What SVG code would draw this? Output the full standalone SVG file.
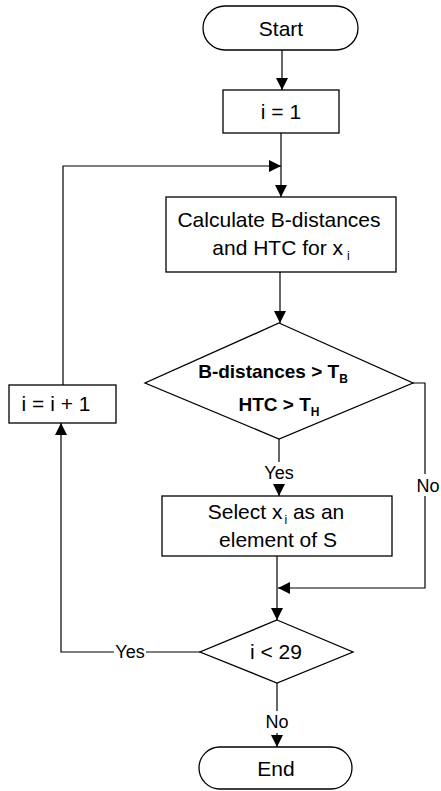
<svg xmlns="http://www.w3.org/2000/svg" width="441" height="791" viewBox="0 0 441 791">
<defs>
<marker id="ah" markerUnits="userSpaceOnUse" markerWidth="12" markerHeight="12" viewBox="0 0 12 12" refX="12" refY="6" orient="auto">
<path d="M0,0 L12,6 L0,12 Z" fill="#000"/>
</marker>
</defs>
<style>
.s{fill:#fff;stroke:#000;stroke-width:1.3}
.c{fill:none;stroke:#000;stroke-width:1.2}
.t{font-family:"Liberation Sans",Arial,sans-serif;font-size:21px;fill:#000;text-anchor:middle}
.b{font-family:"Liberation Sans",Arial,sans-serif;font-size:19px;font-weight:bold;fill:#000;text-anchor:middle}
.l{font-family:"Liberation Sans",Arial,sans-serif;font-size:18px;fill:#000;text-anchor:middle}
.sub{font-size:12px}
.bg{fill:#fff;stroke:none}
</style>
<rect width="441" height="791" fill="#fff"/>
<g id="connectors">
<line class="c" x1="282" y1="50" x2="282" y2="90" marker-end="url(#ah)"/>
<line class="c" x1="281" y1="133" x2="281" y2="197" marker-end="url(#ah)"/>
<polyline class="c" points="63,385 63,166 281,166" marker-end="url(#ah)"/>
<line class="c" x1="280" y1="272" x2="280" y2="323" marker-end="url(#ah)"/>
<line class="c" x1="279" y1="439" x2="279" y2="496" marker-end="url(#ah)"/>
<polyline class="c" points="413,383 425,383 425,588 278,588" marker-end="url(#ah)"/>
<line class="c" x1="277" y1="556" x2="277" y2="620" marker-end="url(#ah)"/>
<polyline class="c" points="200,652 61,652 61,423" marker-end="url(#ah)"/>
<line class="c" x1="277" y1="683" x2="277" y2="747" marker-end="url(#ah)"/>
<rect class="bg" x="262" y="462" width="34" height="22"/>
<text class="l" x="279" y="479">Yes</text>
<rect class="bg" x="417" y="474" width="24" height="22"/>
<text class="l" x="428" y="492">No</text>
<rect class="bg" x="114" y="641" width="32" height="22"/>
<text class="l" x="130" y="658">Yes</text>
<rect class="bg" x="264" y="711" width="26" height="22"/>
<text class="l" x="277" y="728">No</text>
</g>
<g id="start">
<rect class="s" x="203" y="6" width="155" height="44" rx="22"/>
<text class="t" x="281" y="36">Start</text>
</g>
<g id="init">
<rect class="s" x="223" y="90" width="116" height="43"/>
<text class="t" x="281" y="119">i = 1</text>
</g>
<g id="calc">
<rect class="s" x="166" y="197" width="230" height="75"/>
<text class="t" x="279" y="227">Calculate B-distances</text>
<text class="t" x="281" y="255">and HTC for x<tspan class="sub" dx="4" dy="5">i</tspan></text>
</g>
<g id="cond">
<polygon class="s" points="279,323 413,383 279,439 145,383"/>
<text class="b" x="273" y="378">B-distances &gt; T<tspan class="sub" dy="5">B</tspan></text>
<text class="b" x="279" y="411">HTC &gt; T<tspan class="sub" dy="5">H</tspan></text>
</g>
<g id="select">
<rect class="s" x="162" y="496" width="230" height="60"/>
<text class="t" x="276" y="519">Select x<tspan class="sub" dx="2" dy="5">i</tspan><tspan dy="-5"> as an</tspan></text>
<text class="t" x="278" y="547">element of S</text>
</g>
<g id="incr">
<rect class="s" x="9" y="385" width="107" height="38"/>
<text class="t" x="56" y="411">i = i + 1</text>
</g>
<g id="loopcheck">
<polygon class="s" points="277,620 353,652 277,683 200,652"/>
<text class="t" x="276" y="659">i &lt; 29</text>
</g>
<g id="end">
<rect class="s" x="199" y="747" width="153" height="42" rx="21"/>
<text class="t" x="276" y="776">End</text>
</g>
</svg>
